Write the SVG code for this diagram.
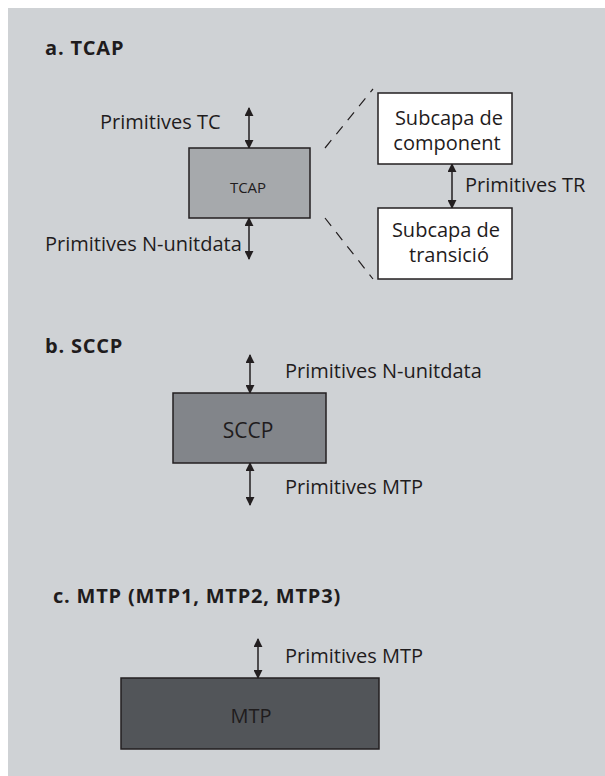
<svg xmlns="http://www.w3.org/2000/svg" width="605" height="776" viewBox="0 0 605 776">
<style>
.bg{fill:#cfd2d5}
.box{stroke:#231f20;stroke-width:1.5}
.lbl{font-family:"Open Sans","Noto Sans",sans-serif;font-size:20px;fill:#1f1c1d}
.ttl{font-family:"Open Sans","Noto Sans",sans-serif;font-size:20px;font-weight:bold;fill:#1f1c1d;letter-spacing:0.8px}
.arr{stroke:#231f20;stroke-width:1.5;fill:none;marker-start:url(#ah);marker-end:url(#ah)}
.dash{stroke:#231f20;stroke-width:1.2;stroke-dasharray:10 8;fill:none}
</style>
<defs>
<marker id="ah" viewBox="0 0 10 10" refX="9" refY="5" markerWidth="9" markerHeight="9" markerUnits="userSpaceOnUse" orient="auto-start-reverse">
<path d="M0,0 L10,5 L0,10 z" fill="#231f20"/>
</marker>
</defs>
<rect class="bg" x="8" y="8" width="597" height="768"/>
<text class="ttl" x="45" y="55">a. TCAP</text>
<text class="ttl" x="45" y="353">b. SCCP</text>
<text class="ttl" x="53" y="603">c. MTP (MTP1, MTP2, MTP3)</text>

<g id="connectors">
<line class="arr" x1="249" y1="108" x2="249" y2="148"/>
<line class="arr" x1="249" y1="218" x2="249" y2="259"/>
<line class="arr" x1="452" y1="164" x2="452" y2="208"/>
<line class="arr" x1="250" y1="355" x2="250" y2="393"/>
<line class="arr" x1="250" y1="463" x2="250" y2="505"/>
<line class="arr" x1="258" y1="639" x2="258" y2="678"/>
<line class="dash" x1="325" y1="148" x2="373" y2="89"/>
<line class="dash" x1="325" y1="218" x2="373" y2="279"/>
<text class="lbl" x="100" y="129">Primitives TC</text>
<text class="lbl" x="45" y="251">Primitives N-unitdata</text>
<text class="lbl" x="465" y="192">Primitives TR</text>
<text class="lbl" x="285" y="378">Primitives N-unitdata</text>
<text class="lbl" x="285" y="494">Primitives MTP</text>
<text class="lbl" x="285" y="663">Primitives MTP</text>
</g>

<g id="tcap">
<rect class="box" x="189" y="148" width="121" height="70" fill="#a6a9ac"/>
<text class="lbl" x="248" y="193" text-anchor="middle" style="font-size:15px">TCAP</text>
</g>
<g id="subcapa-component">
<rect class="box" x="378" y="93" width="134" height="71" fill="#ffffff"/>
<text class="lbl" x="449" y="125" text-anchor="middle">Subcapa de</text>
<text class="lbl" x="447" y="150" text-anchor="middle">component</text>
</g>
<g id="subcapa-transicio">
<rect class="box" x="378" y="208" width="134" height="71" fill="#ffffff"/>
<text class="lbl" x="446" y="237" text-anchor="middle">Subcapa de</text>
<text class="lbl" x="449" y="262" text-anchor="middle">transició</text>
</g>
<g id="sccp">
<rect class="box" x="173" y="393" width="153" height="70" fill="#82858a"/>
<text class="lbl" x="248" y="438" text-anchor="middle" style="font-size:21px">SCCP</text>
</g>
<g id="mtp">
<rect class="box" x="121" y="678" width="258" height="71" fill="#525559"/>
<text class="lbl" x="251" y="723" text-anchor="middle">MTP</text>
</g>
</svg>
